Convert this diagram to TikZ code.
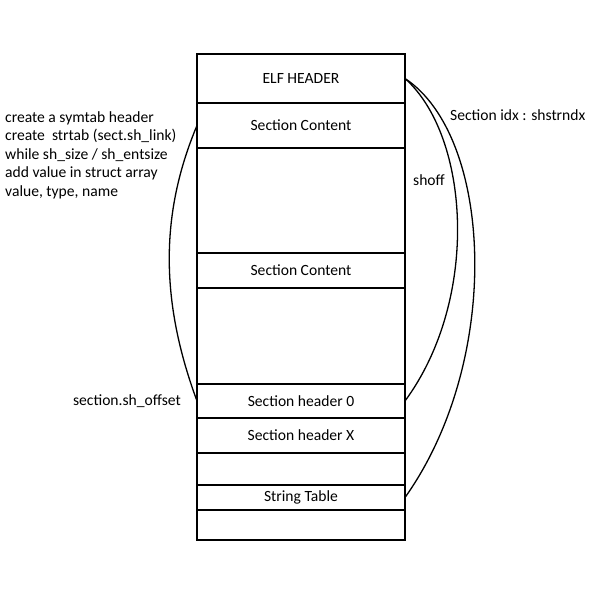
\documentclass[tikz,border=0pt]{standalone}
\usepackage{fontspec}
\setmainfont{Carlito}
\usetikzlibrary{calc}

\begin{document}
\begin{tikzpicture}[
    x = 1pt, y = -1pt,
    cell/.style={draw, line width=1.1pt, minimum width=208pt, outer sep=0pt, inner sep=0pt,
                 anchor=north, font=\fontsize{15.6}{18.5}\selectfont},
    note/.style={inner sep=0pt, font=\fontsize{15.6}{18.5}\selectfont},
    link/.style={line width=1.3pt}
]
\useasboundingbox (0,0) rectangle (600,600);

% file layout, top to bottom
\node[cell, minimum height=49pt] (elf) at (301,54) {ELF HEADER};
\node[cell, minimum height=45pt] (sc1) at (elf.south) {Section Content};
\node[cell, minimum height=105pt] (gap1) at (sc1.south) {};
\node[cell, minimum height=35pt] (sc2) at (gap1.south) {Section Content};
\node[cell, minimum height=96pt] (gap2) at (sc2.south) {};
\node[cell, minimum height=34pt] (sh0) at (gap2.south) {Section header 0};
\node[cell, minimum height=35pt] (shx) at (sh0.south) {Section header X};
\node[cell, minimum height=32pt] (gap3) at (shx.south) {};
\node[cell, minimum height=25pt] (strtab) at (gap3.south) {String Table};
\node[cell, minimum height=30pt] (gap4) at (strtab.south) {};
\draw[line width=1.8pt] (elf.north west) rectangle (gap4.south east);

% links
\draw[link] (elf.east) .. controls +(65,58) and +(75,-102) .. (sh0.east);
\draw[link] (elf.east) .. controls +(88,58) and +(98,-138) .. (strtab.east);
\draw[link] (sc1.west) .. controls +(-37,88) and +(-37,-100) .. (sh0.west);

% labels
\node[note, anchor=west] (shoff) at (413,180) {shoff};
\node[note, anchor=west] (shstrndx) at (450,115) {Section idx : shstrndx};
\node[note, anchor=east] (offset) at (181,401) {section.sh\_offset};
\node[note, anchor=north west, align=left] (symsteps) at (5,111) {create a symtab header\\
    create\ \ strtab (sect.sh\_link)\\
    while sh\_size / sh\_entsize\\
    add value in struct array\\
    value, type, name};
\end{tikzpicture}
\end{document}
